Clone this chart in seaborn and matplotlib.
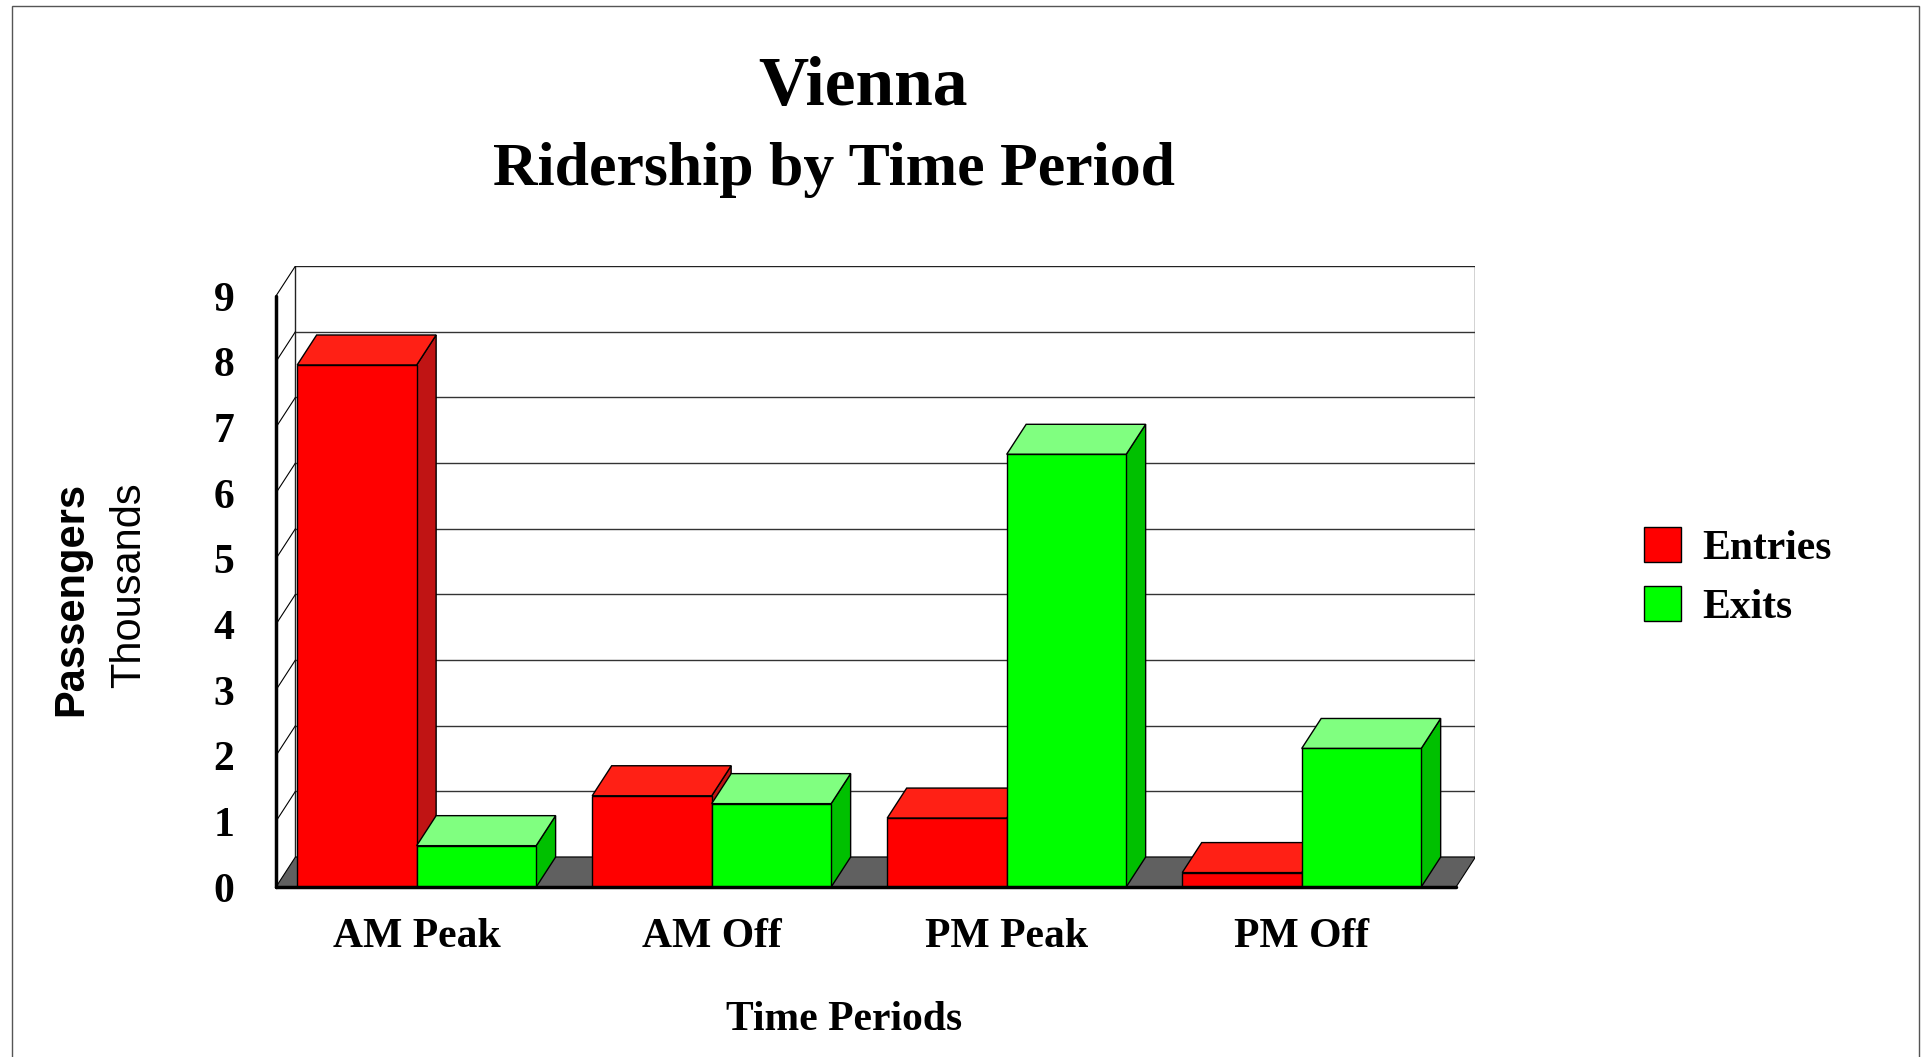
import matplotlib
matplotlib.use("Agg")
import pandas as pd
import matplotlib.pyplot as plt
import seaborn as sns
from matplotlib.patches import Polygon, Rectangle

# data (thousands of passengers)
periods = ["AM Peak", "AM Off", "PM Peak", "PM Off"]
entries = [7.95, 1.39, 1.05, 0.22]
exits = [0.63, 1.27, 6.59, 2.11]
series = ["Entries", "Exits"]
y_ticks = list(range(10))

front_colors = {"Entries": "#FF0000", "Exits": "#00FF00"}
top_colors = {"Entries": "#FF2015", "Exits": "#80FF80"}
side_colors = {"Entries": "#C01414", "Exits": "#00C000"}

df = pd.DataFrame({
    "period": periods * 2,
    "series": ["Entries"] * len(periods) + ["Exits"] * len(periods),
    "value": entries + exits,
})

sns.set_theme(style="white")
plt.rcParams["font.family"] = ["Liberation Serif", "DejaVu Serif"]
plt.rcParams["text.color"] = "black"
plt.rcParams["xtick.color"] = "black"
plt.rcParams["ytick.color"] = "black"

serif_bold = dict(fontfamily="Liberation Serif", fontweight="bold", color="black")

fig = plt.figure(figsize=(19.31, 10.57), dpi=100)
ax = fig.add_axes([0.1429, 0.1608, 0.6212, 0.5875])

sns.barplot(data=df, x="period", y="value", hue="series", palette=front_colors,
            width=0.81, saturation=1, errorbar=None, edgecolor="black",
            linewidth=1, ax=ax)

# fake 3D depth (data units)
DX, DY = 0.066, 0.457
X0, X1 = -0.477, 3.523
YMAX = 9
ax.set_xlim(X0, X1 + DX)
ax.set_ylim(0, YMAX + DY)
for s in ax.spines.values():
    s.set_visible(False)

# back wall and grid
ax.add_patch(Rectangle((X0 + DX, DY), X1 - X0, YMAX, facecolor="white",
                       edgecolor="#222222", lw=1, zorder=0.5))
for k in y_ticks[1:-1]:
    ax.plot([X0 + DX, X1 + DX], [k + DY, k + DY], color="#333333", lw=1, zorder=0.6)
# left side wall
for k in y_ticks[1:]:
    ax.plot([X0, X0 + DX], [k, k + DY], color="black", lw=0.8, zorder=0.6)
# floor
ax.add_patch(Polygon([(X0, 0), (X1, 0), (X1 + DX, DY), (X0 + DX, DY)],
                     facecolor="#606060", edgecolor="black", lw=0.8, zorder=1))

# top and side faces for each bar, drawn left to right
bars = []
for cont, name in zip(ax.containers, series):
    for p in cont:
        bars.append((p, name))
bars.sort(key=lambda b: b[0].get_x())
for i, (p, name) in enumerate(bars):
    x, w, h = p.get_x(), p.get_width(), p.get_height()
    base = 10 + 3 * i
    ax.add_patch(Polygon([(x + w, 0), (x + w + DX, DY), (x + w + DX, h + DY), (x + w, h)],
                         facecolor=side_colors[name], edgecolor="black", lw=1, zorder=base))
    ax.add_patch(Polygon([(x, h), (x + DX, h + DY), (x + w + DX, h + DY), (x + w, h)],
                         facecolor=top_colors[name], edgecolor="black", lw=1, zorder=base + 1))
    p.set_zorder(base + 2)

# front axis lines
ax.plot([X0, X0], [0, YMAX], color="black", lw=2.5, zorder=60, clip_on=False)
ax.plot([X0, X1], [0, 0], color="black", lw=2.5, zorder=60, clip_on=False)

ax.set_yticks(y_ticks)
ax.set_yticklabels([str(t) for t in y_ticks], fontsize=30, **serif_bold)
ax.set_xticks(range(len(periods)))
ax.set_xticklabels(periods, fontsize=30, **serif_bold)
ax.tick_params(axis="y", length=0, pad=30)
ax.tick_params(axis="x", length=0, pad=22)
ax.set_xlabel("")
ax.set_ylabel("")

sns.move_legend(ax, "upper left", bbox_to_anchor=(1644 / 1931, 1 - 527 / 1057),
                bbox_transform=fig.transFigure, frameon=False, title=None,
                prop={"family": "Liberation Serif", "weight": "bold", "size": 30},
                handlelength=0.9, handleheight=0.9, handletextpad=0.5,
                labelspacing=0.45, borderpad=0, borderaxespad=0)
for t in ax.get_legend().get_texts():
    t.set_color("black")

# titles and axis labels
fig.text(0.447, 0.917, "Vienna", ha="center", va="center", fontsize=50, **serif_bold)
fig.text(0.432, 0.839, "Ridership by Time Period", ha="center", va="center",
         fontsize=44.5, **serif_bold)
fig.text(0.437, 0.035, "Time Periods", ha="center", va="center", fontsize=30, **serif_bold)
fig.text(71 / 1931, 0.544, "Passengers", rotation=90, ha="center", va="top",
         fontsize=30, fontfamily="Liberation Sans", fontweight="bold", color="black")
fig.text(129 / 1931, 0.544, "Thousands", rotation=90, ha="center", va="top",
         fontsize=30, fontfamily="Liberation Sans", color="black")

# thin outer frame
fig.patches.append(Rectangle((0.0062, -0.01), 0.9876, 1.0043, transform=fig.transFigure,
                             fill=False, edgecolor="#555555", lw=1))

fig.savefig("out.png", dpi=100)
